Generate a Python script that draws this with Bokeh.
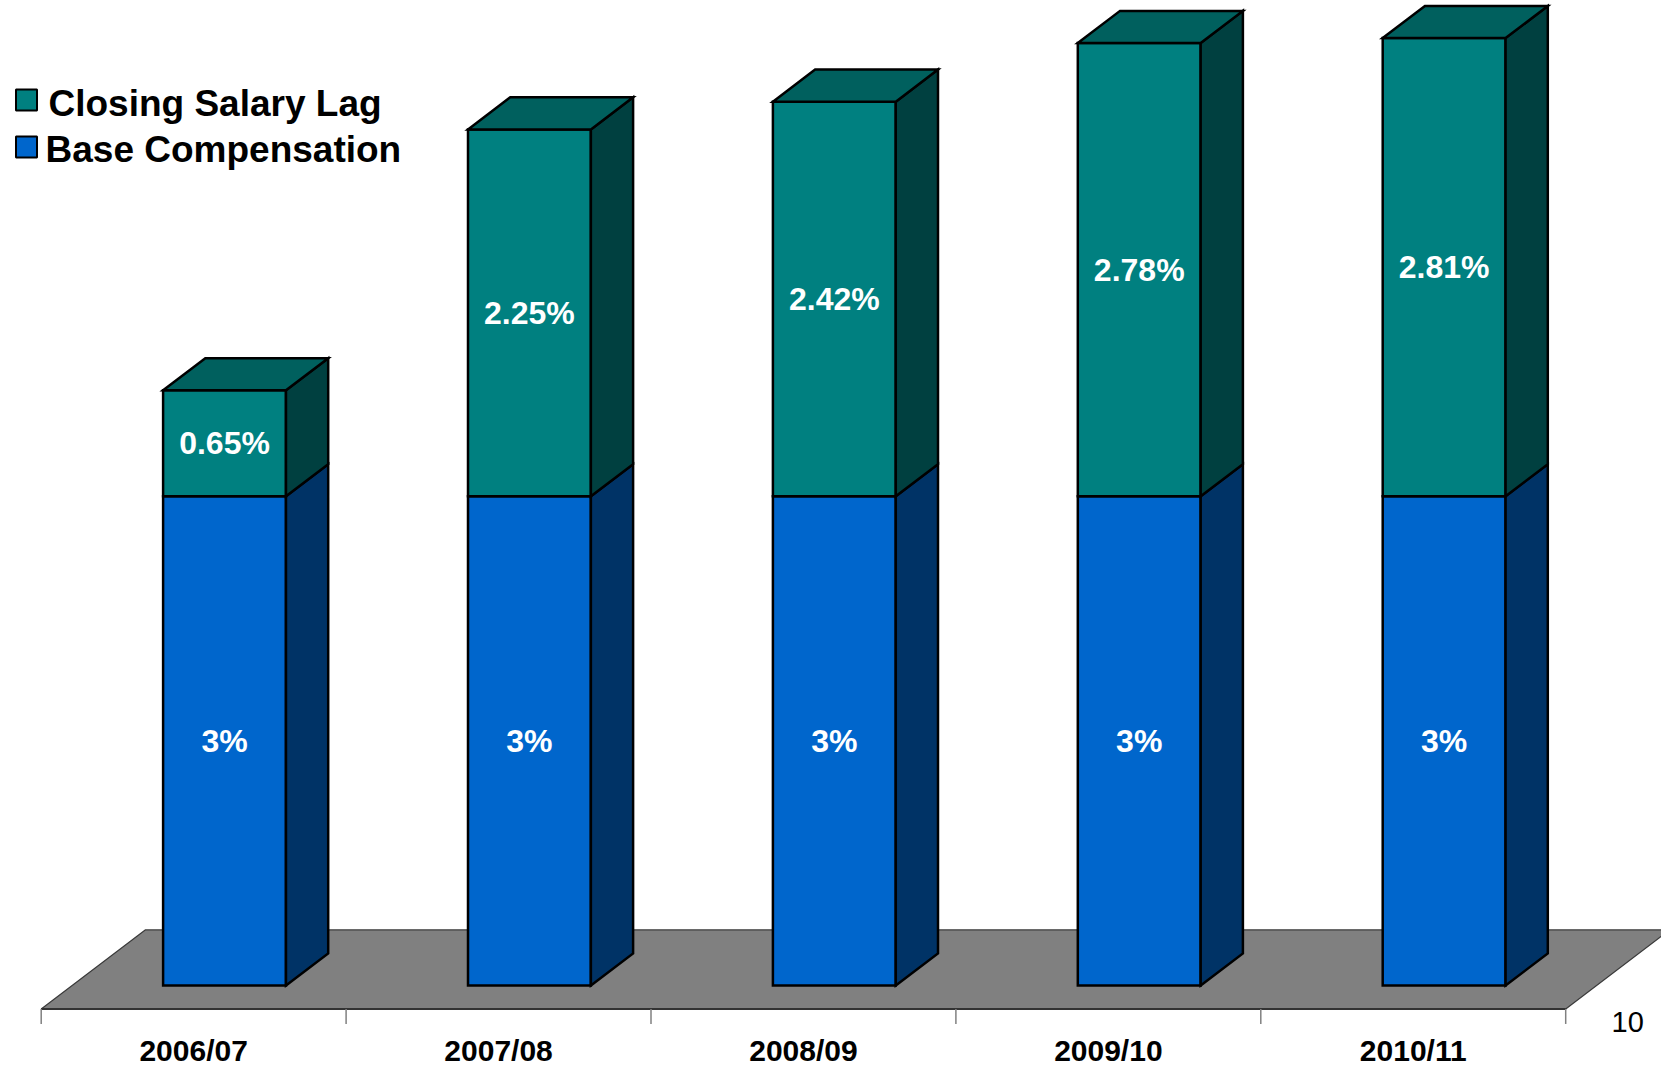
from bokeh.plotting import figure
from bokeh.models import Range1d
from bokeh.core.properties import value
from bokeh.embed import file_html
from bokeh.resources import INLINE

# ---------------- data ----------------
categories = ["2006/07", "2007/08", "2008/09", "2009/10", "2010/11"]
base_comp = [3.0, 3.0, 3.0, 3.0, 3.0]
salary_lag = [0.65, 2.25, 2.42, 2.78, 2.81]
base_labels = ["3%", "3%", "3%", "3%", "3%"]
lag_labels = ["0.65%", "2.25%", "2.42%", "2.78%", "2.81%"]
series_names = ["Closing Salary Lag", "Base Compensation"]
depth_tick_label = "10"

# ---------------- style / layout ----------------
W, H = 1661, 1068
PX_X = 304.9        # pixels per category
PX_Y = 163.07       # pixels per percent
X0_PX = 40.7        # screen x of category 0 left edge
Y0_PX = 985.0       # screen y of value 0 on bar front face
DX = 0.3411         # full floor depth, x units
DY = 0.4845         # full floor depth, y units
Z0, Z1 = 0.297, 0.703
BW = 0.403

TEAL_FRONT = "#008080"
TEAL_TOP = "#00605E"
TEAL_SIDE = "#004040"
BLUE_FRONT = "#0066CC"
BLUE_SIDE = "#003366"
FLOOR = "#808080"
FONT = "Liberation Sans"


def sx(px):
    return (px - X0_PX) / PX_X


def sy(py):
    return (Y0_PX - py) / PX_Y


p = figure(width=W, height=H, min_border=0, toolbar_location=None,
           x_axis_location=None, y_axis_location=None,
           output_backend="svg", outline_line_color=None,
           x_range=Range1d(sx(0), sx(W)), y_range=Range1d(sy(H), sy(0)))
p.grid.visible = False
p.background_fill_color = "white"
p.border_fill_color = "white"

n = len(categories)
F = -Z0 * DY
B = (1 - Z0) * DY

# floor
p.patch([0, n, n + DX, DX], [F, F, B, B], fill_color=FLOOR,
        line_color="#3a3a3a", line_width=1.2)
# axis front line & ticks
p.line([0, n], [F, F], line_color="#333333", line_width=2)
p.segment(x0=list(range(n + 1)), y0=[F] * (n + 1),
          x1=list(range(n + 1)), y1=[F - 15 / PX_Y] * (n + 1),
          line_color="#808080", line_width=1.5)

ddx = (Z1 - Z0) * DX
ddy = (Z1 - Z0) * DY

xl = [k + 0.5 + Z0 * DX - BW / 2 for k in range(n)]
xr = [v + BW for v in xl]
tops = [b + l for b, l in zip(base_comp, salary_lag)]

OUT = dict(line_color="black", line_width=2.5, line_join="miter")

# blue fronts
p.quad(left=xl, right=xr, bottom=[0] * n, top=base_comp,
       fill_color=BLUE_FRONT, **OUT)
# blue sides
p.patches(xs=[[r, r + ddx, r + ddx, r] for r in xr],
          ys=[[0, ddy, b + ddy, b] for b in base_comp],
          fill_color=BLUE_SIDE, **OUT)
# teal fronts
p.quad(left=xl, right=xr, bottom=base_comp, top=tops,
       fill_color=TEAL_FRONT, **OUT)
# teal sides
p.patches(xs=[[r, r + ddx, r + ddx, r] for r in xr],
          ys=[[b, b + ddy, t + ddy, t] for b, t in zip(base_comp, tops)],
          fill_color=TEAL_SIDE, **OUT)
# teal tops
p.patches(xs=[[l, l + ddx, r + ddx, r] for l, r in zip(xl, xr)],
          ys=[[t, t + ddy, t + ddy, t] for t in tops],
          fill_color=TEAL_TOP, **OUT)

# value labels
cx = [(l + r) / 2 for l, r in zip(xl, xr)]
p.text(x=cx, y=[b / 2 for b in base_comp], text=base_labels,
       text_color="white", text_font=value(FONT), text_font_style="bold",
       text_font_size="32px", text_align="center", text_baseline="middle")
p.text(x=cx, y=[b + l / 2 for b, l in zip(base_comp, salary_lag)],
       text=lag_labels, text_color="white", text_font=value(FONT),
       text_font_style="bold", text_font_size="32px",
       text_align="center", text_baseline="middle")

# category labels
p.text(x=[k + 0.5 for k in range(n)], y=[sy(1050)] * n, text=categories,
       text_color="black", text_font=value(FONT), text_font_style="bold",
       text_font_size="30px", text_align="center", text_baseline="middle")

# depth axis label
p.text(x=[sx(1611)], y=[sy(1021)], text=[depth_tick_label],
       text_color="black", text_font=value(FONT), text_font_size="29px",
       text_align="left", text_baseline="middle")

# legend
p.scatter(x=[sx(26), sx(26)], y=[sy(99.5), sy(146.5)], marker="square",
          size=21, fill_color=[TEAL_FRONT, BLUE_FRONT],
          line_color="black", line_width=2)
p.text(x=[sx(48), sx(45)], y=[sy(103), sy(148.5)], text=series_names,
       text_color="black", text_font=value(FONT), text_font_style="bold",
       text_font_size="37px", text_align="left", text_baseline="middle")

open("out.html", "w").write(file_html(p, INLINE))
